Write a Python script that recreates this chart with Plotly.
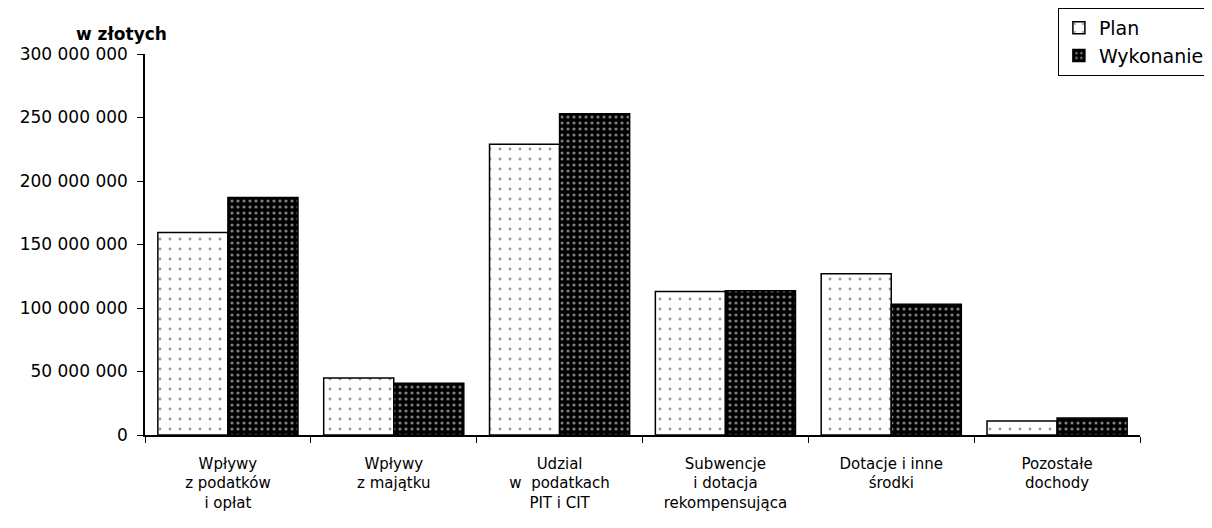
import plotly.graph_objects as go

categories = [
    "Wpływy<br>z podatków<br>i opłat",
    "Wpływy<br>z majątku",
    "Udzial<br>w  podatkach<br>PIT i CIT",
    "Subwencje<br>i dotacja<br>rekompensująca",
    "Dotacje i inne<br>środki",
    "Pozostałe<br>dochody",
]
plan = [159.5e6, 44.8e6, 229e6, 113e6, 127e6, 11e6]
wykonanie = [187e6, 40.8e6, 253e6, 113.5e6, 103e6, 13.4e6]
y_ticks = [0, 50e6, 100e6, 150e6, 200e6, 250e6, 300e6]
y_ticktext = ["0", "50 000 000", "100 000 000", "150 000 000", "200 000 000", "250 000 000", "300 000 000"]

font_family = "DejaVu Sans, Verdana, sans-serif"

fig = go.Figure()
fig.add_trace(go.Bar(
    name="Plan", x=categories, y=plan,
    marker=dict(color="white", line=dict(color="black", width=1.5),
                pattern=dict(shape=".", fgcolor="#333333", bgcolor="white", size=10, solidity=0.06)),
))
fig.add_trace(go.Bar(
    name="Wykonanie", x=categories, y=wykonanie,
    marker=dict(color="black", line=dict(color="black", width=1.5),
                pattern=dict(shape=".", fgcolor="white", bgcolor="black", size=6, solidity=0.22)),
))

fig.update_layout(
    width=1204, height=520,
    margin=dict(l=137, r=72, t=46, b=93, autoexpand=False),
    paper_bgcolor="white", plot_bgcolor="white",
    barmode="group", bargap=0.155, bargroupgap=0,
    font=dict(family=font_family, size=15, color="black"),
    showlegend=True,
    legend=dict(xref="container", yref="container", x=0.872, y=1.0,
                xanchor="left", yanchor="top", itemwidth=30,
                bordercolor="black", borderwidth=1, bgcolor="white",
                font=dict(size=19, family=font_family), tracegroupgap=2),
    annotations=[dict(text="<b>w złotych</b>", xref="paper", yref="paper",
                      x=-0.071, y=1.02, xanchor="left", yanchor="bottom",
                      showarrow=False, font=dict(size=17, family=font_family))],
)
fig.update_yaxes(range=[0, 300e6], tickvals=y_ticks, ticktext=y_ticktext,
                 showgrid=False, zeroline=False, showline=True, linecolor="black", linewidth=1.5,
                 ticks="outside", ticklen=6, tickcolor="black", ticklabelstandoff=6,
                 tickfont=dict(size=17))
fig.update_xaxes(showgrid=False, showline=True, linecolor="black", linewidth=1.5,
                 ticks="outside", tickson="boundaries", ticklen=6, tickcolor="black",
                 ticklabelstandoff=14,
                 tickfont=dict(size=15))

fig.write_html("out.html")
